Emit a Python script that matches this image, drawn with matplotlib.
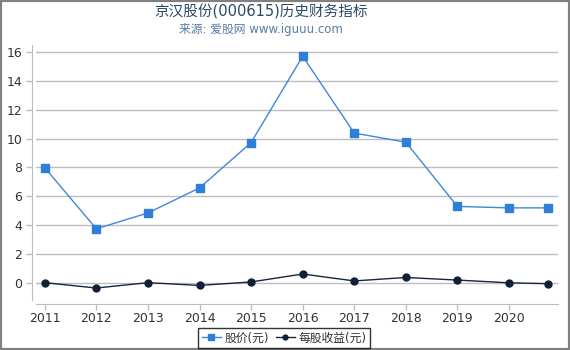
import matplotlib
matplotlib.use("Agg")
import matplotlib.pyplot as plt
from matplotlib.patches import Rectangle

plt.rcParams['font.family'] = ['DejaVu Sans', 'Noto Sans CJK SC']

years = [2011, 2012, 2013, 2014, 2015, 2016, 2017, 2018, 2019, 2020, 2020.75]
tick_years = [2011, 2012, 2013, 2014, 2015, 2016, 2017, 2018, 2019, 2020]
price = [7.98, 3.75, 4.85, 6.58, 9.72, 15.7, 10.38, 9.75, 5.3, 5.2, 5.2]
eps = [0.02, -0.35, 0.02, -0.17, 0.07, 0.62, 0.14, 0.38, 0.2, 0.01, -0.05]
yticks = [0, 2, 4, 6, 8, 10, 12, 14, 16]

W, H = 570, 350
fig = plt.figure(figsize=(W / 100, H / 100), dpi=100)

# axes region in pixels
x0, x1 = 36, 558
y_top, y_bot = 45, 300
ax = fig.add_axes([x0 / W, 1 - y_bot / H, (x1 - x0) / W, (y_bot - y_top) / H])

ax.plot(years, price, color='#3d88dc', lw=1.0, marker='s', ms=5.8,
        mfc='#2f7fd8', mec='#2f7fd8', label='股价(元)', zorder=3)
ax.plot(years, eps, color='#16263d', lw=1.0, marker='o', ms=5.0,
        mfc='#0f2037', mec='#0f2037', label='每股收益(元)', zorder=3)

ax.set_xlim(2010.83, 2020.95)
ax.set_ylim(-1.18, 16.48)
ax.set_yticks(yticks)
ax.set_xticks(tick_years)
ax.set_xticklabels([str(y) for y in tick_years])
ax.grid(axis='y', color='#bdbdbd', lw=1.0)
ax.set_axisbelow(True)

for s in ['top', 'right']:
    ax.spines[s].set_visible(False)
ax.spines['left'].set_position(('outward', 4 * 0.72))
ax.spines['bottom'].set_position(('outward', 4 * 0.72))
ax.spines['left'].set_color('#bdbdbd')
ax.spines['bottom'].set_color('#bdbdbd')
ax.tick_params(axis='both', colors='#bdbdbd', labelcolor='#333333',
               labelsize=9, length=4, width=1)
ax.tick_params(axis='y', pad=3)
ax.tick_params(axis='x', pad=1.5)

fig.text(261 / W, 1 - 12 / H, '京汉股份(000615)历史财务指标', ha='center', va='center',
         fontsize=10.5, color='#2c4866')
fig.text(261 / W, 1 - 29 / H, '来源: 爱股网 www.iguuu.com', ha='center', va='center',
         fontsize=8.5, color='#5a7ca4')

leg = fig.legend(loc='center', bbox_to_anchor=(284 / W, 1 - 338 / H), ncol=2,
                 fontsize=8.5, frameon=True, fancybox=False, edgecolor='#000000',
                 handlelength=1.6, handletextpad=0.3, columnspacing=0.6,
                 borderpad=0.3, markerscale=0.7)
leg.get_frame().set_linewidth(1.0)
for t in leg.get_texts():
    t.set_color('#333333')

# outer gray frame
fig.patches.append(Rectangle((0, 0), 1, 1, transform=fig.transFigure,
                             fill=False, edgecolor='#808080', lw=3))

fig.savefig('out.png', dpi=100)
